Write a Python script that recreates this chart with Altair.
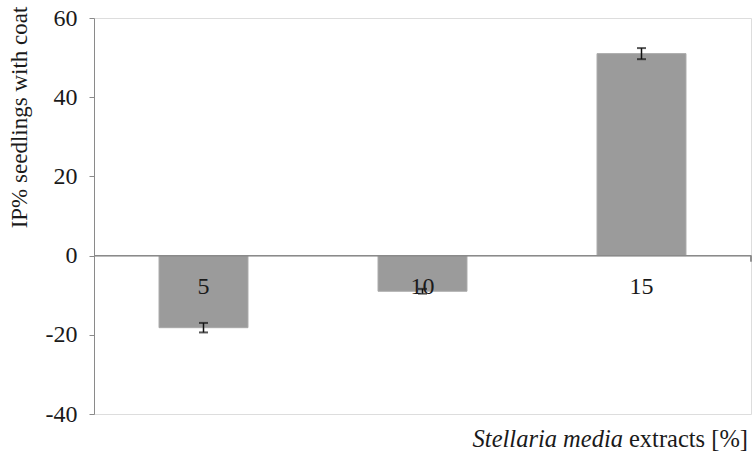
import altair as alt
import pandas as pd

# Extract concentrations and inhibition percentages with their errors
categories = ["5", "10", "15"]
ip_values = [-18.2, -9.0, 51.0]
ip_errors = [1.2, 0.6, 1.4]

y_ticks = [-40, -20, 0, 20, 40, 60]
y_title = "IP% seedlings with coat"
x_title_italic = "Stellaria media"
x_title_plain = "extracts  [%]"

FONT = "Liberation Serif"
W, H = 657, 396

df = pd.DataFrame({
    "conc": categories,
    "ip": ip_values,
    "lo": [v - e for v, e in zip(ip_values, ip_errors)],
    "hi": [v + e for v, e in zip(ip_values, ip_errors)],
})

x = alt.X("conc:N", sort=categories, axis=None,
          scale=alt.Scale(paddingInner=0.594, paddingOuter=0.297))
y_scale = alt.Scale(domain=[-40, 60], nice=False, zero=False)

base = alt.Chart(df)

bars = base.mark_bar(color="#9b9b9b", stroke="#a8a8a8", strokeWidth=1).encode(
    x=x,
    y=alt.Y("ip:Q", scale=y_scale,
            axis=alt.Axis(values=y_ticks, grid=False, domainColor="#8a8a8a",
                          tickColor="#8a8a8a", tickSize=5, labelFont=FONT,
                          labelFontSize=24, labelColor="#1a1a1a", labelPadding=12,
                          labelExpr="'' + datum.value",
                          title=y_title, titleFont=FONT, titleFontSize=23,
                          titleFontWeight="normal", titleColor="#1a1a1a",
                          titleAngle=-90, titleX=-75, titleY=99,
                          titleAlign="center", titleBaseline="middle")),
    y2=alt.datum(0),
)

err_rule = base.mark_rule(color="#111111", strokeWidth=1.5).encode(
    x=x, y=alt.Y("lo:Q", scale=y_scale), y2="hi:Q"
)
cap_lo = base.mark_tick(color="#111111", size=9, thickness=2).encode(
    x=x, y=alt.Y("lo:Q", scale=y_scale)
)
cap_hi = base.mark_tick(color="#111111", size=9, thickness=2).encode(
    x=x, y=alt.Y("hi:Q", scale=y_scale)
)

# Horizontal axis line at zero, with its end tick
zero_line = base.mark_rule(color="#8a8a8a", strokeWidth=1.2).encode(
    x=alt.value(0), x2=alt.value(W), y=alt.datum(0, scale=y_scale)
)
end_tick = base.mark_rule(color="#8a8a8a", strokeWidth=1.2, y2Offset=6).encode(
    x=alt.value(W), y=alt.datum(0), y2=alt.datum(0)
)

cat_labels = base.mark_text(font=FONT, fontSize=24, color="#1a1a1a",
                            baseline="middle", dy=31).encode(
    x=x, y=alt.datum(0), text="conc:N"
)

title_df = pd.DataFrame({"a": [x_title_italic], "b": [x_title_plain]})
title_italic = alt.Chart(title_df).mark_text(
    font=FONT, fontSize=24.5, fontStyle="italic", align="right",
    baseline="alphabetic", color="#1a1a1a"
).encode(x=alt.value(529), y=alt.value(H + 33), text="a:N")
title_plain = alt.Chart(title_df).mark_text(
    font=FONT, fontSize=24.5, align="right", baseline="alphabetic", color="#1a1a1a"
).encode(x=alt.value(654), y=alt.value(H + 33), text="b:N")

chart = alt.layer(
    bars, zero_line, end_tick, err_rule, cap_lo, cap_hi, cat_labels,
    title_italic, title_plain
).properties(
    width=W, height=H,
    autosize=alt.AutoSizeParams(type="none"),
    padding={"left": 94, "top": 18, "right": 2, "bottom": 41},
).configure_view(stroke=None).configure(background="white")

chart.save("out.html", embed_options={"renderer": "svg", "actions": False})
